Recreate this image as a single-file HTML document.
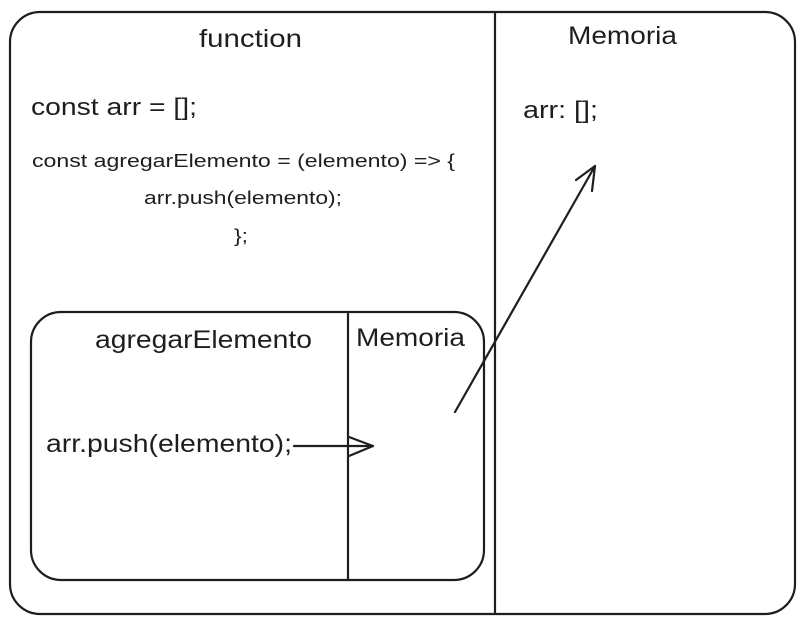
<!DOCTYPE html>
<html><head><meta charset="utf-8"><style>
html,body{margin:0;padding:0;background:#fff;}
svg{display:block;}
text{font-family:"Liberation Sans",sans-serif;fill:#1e1e1e;}
</style></head><body>
<svg width="805" height="626" viewBox="0 0 805 626" xmlns="http://www.w3.org/2000/svg">
<g fill="none" stroke="#1e1e1e" stroke-width="2.2" stroke-linecap="round" stroke-linejoin="round">
<rect x="10" y="12" width="785" height="602" rx="30"/>
<line x1="495" y1="12" x2="495" y2="614"/>
<rect x="31" y="312" width="453" height="268" rx="30"/>
<line x1="348" y1="314" x2="348" y2="580"/>
<line x1="294" y1="446" x2="373" y2="446"/>
<polyline points="349,437 373,446 349,456"/>
<line x1="455" y1="412" x2="595" y2="166"/>
<polyline points="576,180 595,166 592,191"/>
</g>
<text x="199" y="47" font-size="25" textLength="103" lengthAdjust="spacingAndGlyphs">function</text>
<text x="568" y="44" font-size="25" textLength="109" lengthAdjust="spacingAndGlyphs">Memoria</text>
<text x="31" y="115" font-size="24" textLength="166" lengthAdjust="spacingAndGlyphs">const arr = [];</text>
<text x="523" y="118" font-size="24" textLength="75" lengthAdjust="spacingAndGlyphs">arr: [];</text>
<text x="32" y="167" font-size="18" textLength="423" lengthAdjust="spacingAndGlyphs">const agregarElemento = (elemento) =&gt; {</text>
<text x="144" y="204" font-size="18" textLength="198" lengthAdjust="spacingAndGlyphs">arr.push(elemento);</text>
<text x="234" y="242" font-size="18" textLength="14" lengthAdjust="spacingAndGlyphs">};</text>
<text x="95" y="348" font-size="25" textLength="217" lengthAdjust="spacingAndGlyphs">agregarElemento</text>
<text x="356" y="346" font-size="25" textLength="109" lengthAdjust="spacingAndGlyphs">Memoria</text>
<text x="46" y="452" font-size="25" textLength="246" lengthAdjust="spacingAndGlyphs">arr.push(elemento);</text>
</svg>
</body></html>
